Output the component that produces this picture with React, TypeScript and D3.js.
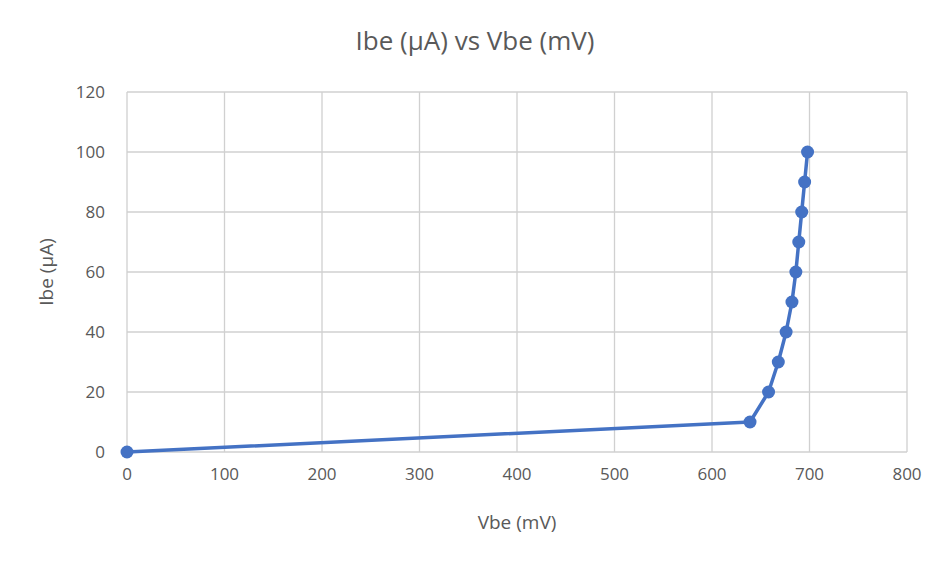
import * as d3 from 'd3';

const vbe = [0, 639, 658, 668, 676, 682, 686, 689, 692, 695, 698];
const ibe = [0, 10, 20, 30, 40, 50, 60, 70, 80, 90, 100];
const xTicks = [0, 100, 200, 300, 400, 500, 600, 700, 800];
const yTicks = [0, 20, 40, 60, 80, 100, 120];

export default function App() {
  const width = 950, height = 564;
  const left = 127, right = 907, top = 92, bottom = 452;
  const x = d3.scaleLinear().domain([0, 800]).range([left, right]);
  const y = d3.scaleLinear().domain([0, 120]).range([bottom, top]);
  const pts = vbe.map((v, i) => [v, ibe[i]] as [number, number]);
  const line = d3.line<[number, number]>().x(d => x(d[0])).y(d => y(d[1]));
  const font = '"Open Sans", "Noto Sans", sans-serif';
  return (
    <svg width={width} height={height} style={{ position: 'absolute', left: 0, top: 0, fontFamily: font }}>
      <rect width={width} height={height} fill="#fff" />
      {yTicks.map(t => (
        <g key={'y' + t}>
          <line x1={left} x2={right} y1={y(t)} y2={y(t)} stroke="#d0d0d0" strokeWidth={1.3} />
          <text x={left - 22} y={y(t)} dy="0.35em" textAnchor="end" fontSize={17} fill="#595959">{t}</text>
        </g>
      ))}
      {xTicks.map(t => (
        <g key={'x' + t}>
          <line x1={x(t)} x2={x(t)} y1={top} y2={bottom} stroke="#d0d0d0" strokeWidth={1.3} />
          <text x={x(t)} y={bottom + 28} textAnchor="middle" fontSize={17} fill="#595959">{t}</text>
        </g>
      ))}
      <path d={line(pts) || ''} fill="none" stroke="#4472c4" strokeWidth={3.5} strokeLinejoin="round" />
      {pts.map((p, i) => (
        <circle key={i} cx={x(p[0])} cy={y(p[1])} r={6.5} fill="#4472c4" />
      ))}
      <text x={475} y={50} textAnchor="middle" fontSize={26} fill="#595959">Ibe (µA) vs Vbe (mV)</text>
      <text x={517} y={529} textAnchor="middle" fontSize={19} fill="#595959">Vbe (mV)</text>
      <text transform={`translate(53,${(top + bottom) / 2}) rotate(-90)`} textAnchor="middle" fontSize={19} fill="#595959">Ibe (µA)</text>
    </svg>
  );
}
